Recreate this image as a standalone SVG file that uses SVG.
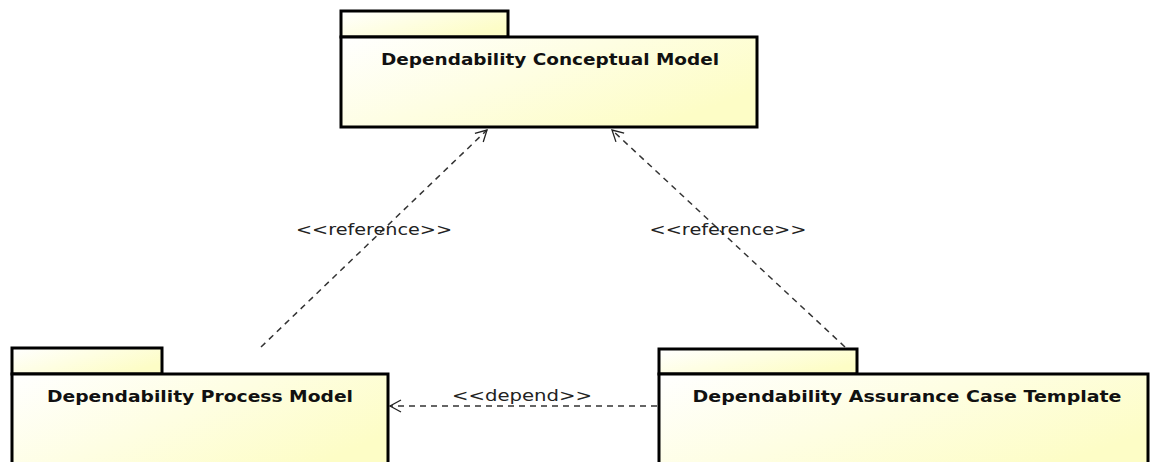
<svg xmlns="http://www.w3.org/2000/svg" width="1151" height="462" viewBox="0 0 1151 462">
<defs>
<linearGradient id="g" x1="0" y1="0" x2="1" y2="0.6">
<stop offset="0" stop-color="#ffffff"/>
<stop offset="1" stop-color="#fdfdc6"/>
</linearGradient>
<marker id="open" markerWidth="14" markerHeight="14" refX="12" refY="7" orient="auto" markerUnits="userSpaceOnUse">
<path d="M1,1 L12,7 L1,13" fill="none" stroke="#222" stroke-width="1.3"/>
</marker>
</defs>
<style>
.pk{fill:url(#g);stroke:#000;stroke-width:3}
.t{font-family:"DejaVu Sans",sans-serif;font-weight:bold;font-size:16px;fill:#111;text-anchor:middle}
.c{fill:none;stroke:#333;stroke-width:1.5;stroke-dasharray:6 5}
.l{font-family:"DejaVu Sans",sans-serif;font-size:16px;fill:#222;text-anchor:middle}
</style>
<g id="connectors">
<line class="c" x1="261" y1="347" x2="487" y2="130" marker-end="url(#open)"/>
<line class="c" x1="845" y1="347" x2="612" y2="130" marker-end="url(#open)"/>
<line class="c" x1="657" y1="406" x2="390" y2="406" marker-end="url(#open)"/>
<text class="l" x="374" y="235" textLength="156" lengthAdjust="spacingAndGlyphs">&lt;&lt;reference&gt;&gt;</text>
<text class="l" x="728" y="235" textLength="157" lengthAdjust="spacingAndGlyphs">&lt;&lt;reference&gt;&gt;</text>
<text class="l" x="522" y="401" textLength="140" lengthAdjust="spacingAndGlyphs">&lt;&lt;depend&gt;&gt;</text>
</g>
<g id="conceptual">
<rect class="pk" x="341" y="11" width="167" height="26"/>
<rect class="pk" x="341" y="37" width="416" height="90"/>
<text class="t" x="550" y="65" textLength="338" lengthAdjust="spacingAndGlyphs">Dependability Conceptual Model</text>
</g>
<g id="process">
<rect class="pk" x="12" y="348" width="150" height="26"/>
<rect class="pk" x="12" y="374" width="376" height="100"/>
<text class="t" x="200" y="402" textLength="306" lengthAdjust="spacingAndGlyphs">Dependability Process Model</text>
</g>
<g id="assurance">
<rect class="pk" x="659" y="349" width="198" height="25"/>
<rect class="pk" x="659" y="374" width="489" height="100"/>
<text class="t" x="907" y="402" textLength="429" lengthAdjust="spacingAndGlyphs">Dependability Assurance Case Template</text>
</g>
</svg>
